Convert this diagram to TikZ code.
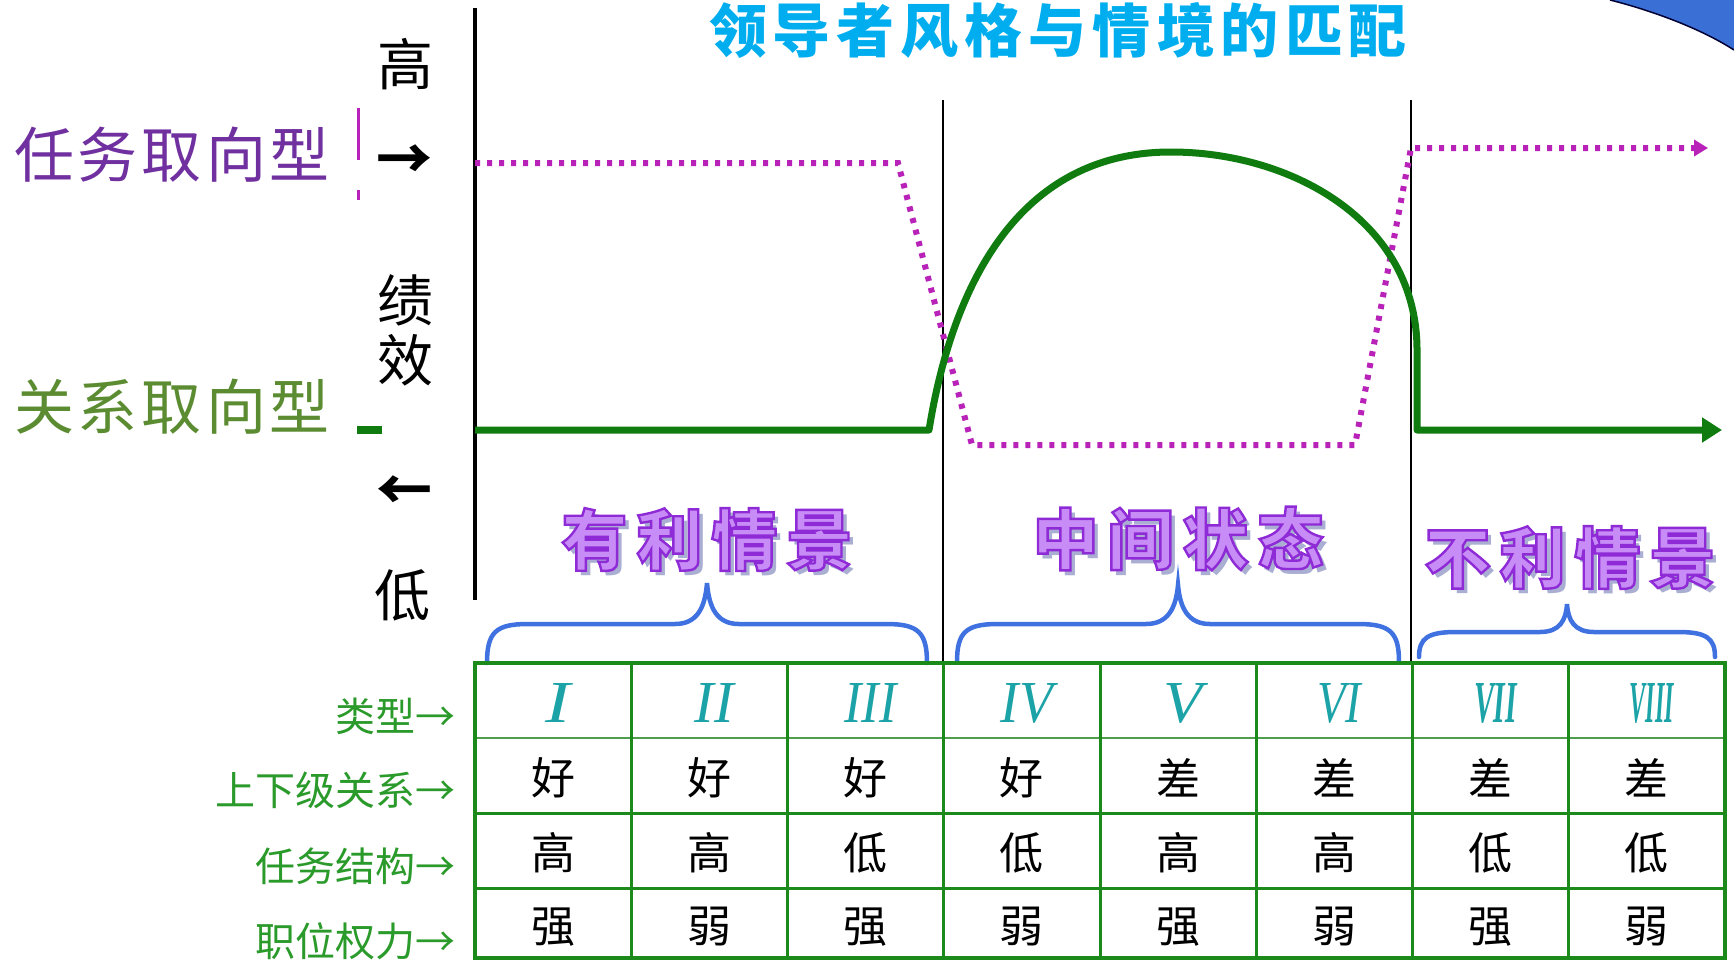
\documentclass[tikz,border=0pt]{standalone}
\usepackage{fontspec}
\usepackage{graphicx}
\setmainfont{Liberation Serif}
\newfontfamily\cjk{Noto Sans CJK SC}
\usetikzlibrary{arrows.meta}
\newlength\lsgap
\newcommand\gk{\kern\lsgap}
\definecolor{titlecol}{HTML}{00AEEF}
\definecolor{taskcol}{HTML}{7030A0}
\definecolor{relcol}{HTML}{5B8C32}
\definecolor{dotcol}{HTML}{B822B8}
\definecolor{curvecol}{HTML}{107C10}
\definecolor{tabcol}{HTML}{1B8A1B}
\definecolor{tabline}{HTML}{4E9E4E}
\definecolor{labcol}{HTML}{2A9A2A}
\definecolor{bracecol}{HTML}{3F72E0}
\definecolor{numcol}{HTML}{1BA3A8}
\definecolor{sitfill}{HTML}{C88CF6}
\definecolor{sitshadow}{HTML}{A9AED2}
\definecolor{cornercol}{HTML}{3A6FD6}
% outlined text (fill + stroke) with a shadow
\newcommand\sittext[1]{%
  \rlap{\kern5pt\raisebox{-5pt}{\color{sitshadow}#1}}%
  {\color{sitfill}\special{pdf:literal direct 2 Tr 2.4 w 0.557 0.169 0.839 RG}#1\special{pdf:literal direct 0 Tr}}}
\begin{document}
\begin{tikzpicture}[x=1pt,y=-1pt,
  every node/.style={inner sep=0pt,outer sep=0pt},
  titlef/.style={font=\cjk\bfseries\fontsize{58}{58}\selectfont,text=titlecol},
  sidef/.style={font=\cjk\fontsize{60}{60}\selectfont},
  axisf/.style={font=\cjk\fontsize{56}{56}\selectfont,text=black},
  sitf/.style={font=\cjk\bfseries\fontsize{66}{66}\selectfont},
  cellf/.style={font=\cjk\fontsize{44}{44}\selectfont,text=black},
  rowf/.style={font=\cjk\fontsize{40}{40}\selectfont,text=labcol,anchor=east},
  numf/.style={text=numcol},
  dotline/.style={draw=dotcol,line width=6pt,dash pattern=on 5pt off 7pt},
  curveline/.style={draw=curvecol,line width=7pt,line join=round},
  bracel/.style={draw=bracecol,line width=4.5pt,line cap=round},
  tabouter/.style={draw=tabcol,line width=4pt},
  tabinner/.style={draw=tabcol,line width=3pt},
  tabrow/.style={draw=tabline,line width=2.5pt}]
\useasboundingbox (0,0) rectangle (1734,962);
\fill[white] (0,0) rectangle (1734,962);

% corner decoration
\fill[cornercol] (1610,0) .. controls (1650,10) and (1700,28) .. (1734,50) -- (1734,0) -- cycle;
\draw[draw=black!80!blue,line width=1.5pt] (1610,0) .. controls (1650,10) and (1700,28) .. (1734,50);

% title
\node[titlef] (title) at (1058,30) {\setlength\lsgap{6pt}领\gk 导\gk 者\gk 风\gk 格\gk 与\gk 情\gk 境\gk 的\gk 匹\gk 配};

% left labels
\node[sidef,text=taskcol] (task) at (172,155) {\setlength\lsgap{4pt}任\gk 务\gk 取\gk 向\gk 型};
\node[sidef,text=relcol] (rel) at (172,407) {\setlength\lsgap{4pt}关\gk 系\gk 取\gk 向\gk 型};
% remnants at the cut edge
\draw[dotcol,line width=3pt] (358.5,108) -- (358.5,160);
\draw[dotcol,line width=3pt] (358.5,190) -- (358.5,200);
\draw[curvecol,line width=8pt] (357,430) -- (382,430);

% axis
\draw[black,line width=4.5pt] (475,8) -- (475,600);
\node[axisf] (hi) at (405,64) {高};
\node[axisf,font=\cjk\bfseries\fontsize{56}{56}\selectfont] (up) at (404,162) {→};
\node[axisf] (ji) at (405,300) {绩};
\node[axisf] (xiao) at (405,360) {效};
\node[axisf,font=\cjk\bfseries\fontsize{56}{56}\selectfont] (down) at (404,493) {←};
\node[axisf] (lo) at (402,595) {低};

% separators
\draw[black,line width=2pt] (943,100) -- (943,663);
\draw[black,line width=2pt] (1411,100) -- (1411,663);

% magenta dotted line
\draw[dotline,-{Triangle[length=14pt,width=16pt]}] (475,163) -- (898,163) -- (972,445) -- (1355,445) -- (1411,148) -- (1708,148);

% green curve
\draw[curveline,-{Triangle[length=20pt,width=24pt]}] (475,430) -- (929,430)
  .. controls (950,300) and (1010,152) .. (1171,152)
  .. controls (1290,152) and (1417,220) .. (1417,350) -- (1417,430) -- (1722,430);

% braces
\draw[bracel] (487,663) .. controls (487,632) and (496,624) .. (528,624) -- (675,624)
  .. controls (697,624) and (705,608) .. (707,583) .. controls (709,608) and (717,624) .. (739,624)
  -- (886,624) .. controls (918,624) and (927,632) .. (927,663);
\draw[bracel] (957,662) .. controls (957,632) and (966,624) .. (998,624) -- (1146,624)
  .. controls (1168,624) and (1176,608) .. (1178,585) .. controls (1180,608) and (1188,624) .. (1210,624)
  -- (1358,624) .. controls (1390,624) and (1399,632) .. (1399,662);
\draw[bracel] (1419,657) .. controls (1419,638) and (1428,632) .. (1456,632) -- (1540,632)
  .. controls (1560,632) and (1566,620) .. (1567,604) .. controls (1568,620) and (1574,632) .. (1594,632)
  -- (1678,632) .. controls (1706,632) and (1715,638) .. (1715,657);

% situation labels
\node[sitf] (fav) at (707,542) {\setlength\lsgap{9pt}\sittext{有\gk 利\gk 情\gk 景}};
\node[sitf] (mid) at (1178,541) {\setlength\lsgap{9pt}\sittext{中\gk 间\gk 状\gk 态}};
\node[sitf] (unf) at (1570,560) {\setlength\lsgap{9pt}\sittext{不\gk 利\gk 情\gk 景}};

% table
\foreach \y in {813,888} \draw[tabinner] (475,\y) -- (1725,\y);
\draw[tabrow] (475,738) -- (1725,738);
\foreach \k in {1,...,7} \draw[tabinner] (475+156.25*\k,663) -- (475+156.25*\k,958);
\draw[tabouter] (475,663) rectangle (1725,958);

% numerals
\foreach \t/\w/\s [count=\k from 0] in {I/25/\mdseries,II/39/\mdseries,III/52/\mdseries,IV/52/\mdseries,V/39/\mdseries,VI/44/\mdseries,VII/43/\bfseries,VIII/44/\bfseries}
  \node[numf] (num\k) at (475+156.25*\k+78+5,703) {\resizebox{\w pt}{39pt}{\itshape\s\t}};

% cells
\foreach \t [count=\k from 0] in {好,好,好,好,差,差,差,差}
  \node[cellf] (r\k) at (475+156.25*\k+78,778) {\t};
\foreach \t [count=\k from 0] in {高,高,低,低,高,高,低,低}
  \node[cellf] (s\k) at (475+156.25*\k+78,853) {\t};
\foreach \t [count=\k from 0] in {强,弱,强,弱,强,弱,强,弱}
  \node[cellf] (p\k) at (475+156.25*\k+78,927) {\t};

% row labels
\node[rowf] (l1) at (455,716) {类型→};
\node[rowf] (l2) at (455,790) {上下级关系→};
\node[rowf] (l3) at (455,866) {任务结构→};
\node[rowf] (l4) at (455,941) {职位权力→};
\end{tikzpicture}
\end{document}
